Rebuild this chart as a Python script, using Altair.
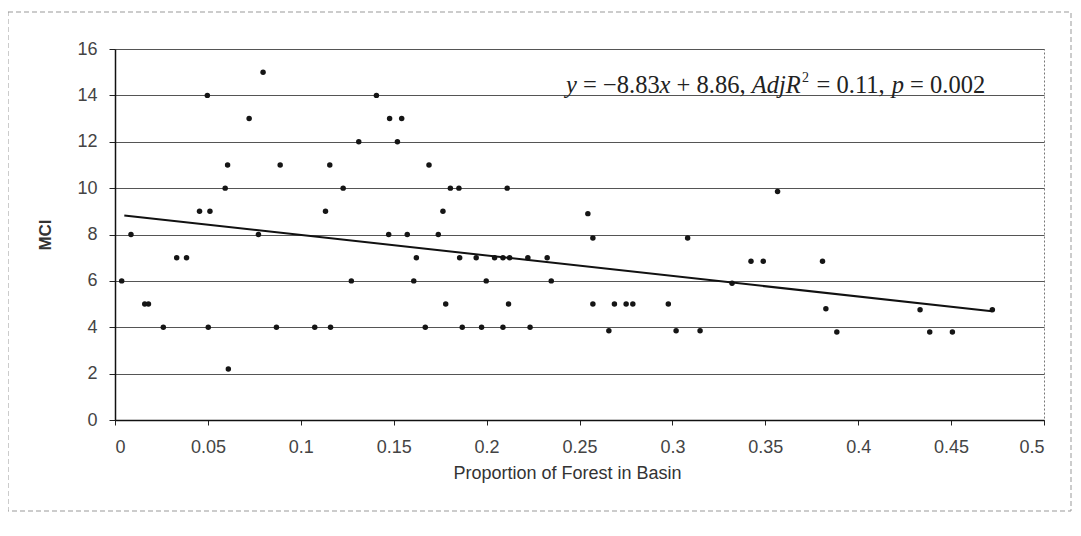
import altair as alt
import pandas as pd

# Proportion of forest in basin (x) and MCI (y)
forest = [0.0036, 0.0086, 0.016, 0.018, 0.026, 0.0332, 0.0385, 0.0455, 0.0497, 0.0502,
          0.0511, 0.0593, 0.0606, 0.061, 0.0722, 0.0772, 0.0797, 0.0869, 0.0889, 0.1075,
          0.1133, 0.1156, 0.1160, 0.1228, 0.1272, 0.1312, 0.1407, 0.1473, 0.1478, 0.152,
          0.1543, 0.1573, 0.1608, 0.1622, 0.167, 0.169, 0.174, 0.1765, 0.178, 0.1805,
          0.1851, 0.1855, 0.1869, 0.1944, 0.1973, 0.1998, 0.2043, 0.2088, 0.2088, 0.2111,
          0.2118, 0.2124, 0.2222, 0.2234, 0.2326, 0.2348, 0.2545, 0.2572, 0.2572, 0.2658,
          0.2688, 0.2751, 0.2787, 0.2978, 0.302, 0.3082, 0.3149, 0.3321, 0.3423, 0.3489,
          0.3566, 0.3808, 0.3826, 0.3885, 0.4333, 0.4385, 0.4507, 0.4722]
mci = [6, 8, 5, 5, 4, 7, 7, 9, 14, 4,
       9, 10, 11, 2.2, 13, 8, 15, 4, 11, 4,
       9, 11, 4, 10, 6, 12, 14, 8, 13, 12,
       13, 8, 6, 7, 4, 11, 8, 9, 5, 10,
       10, 7, 4, 7, 4, 6, 7, 7, 4, 10,
       5, 7, 7, 4, 7, 6, 8.9, 7.85, 5, 3.85,
       5, 5, 5, 5, 3.85, 7.85, 3.85, 5.9, 6.85, 6.85,
       9.85, 6.85, 4.8, 3.8, 4.75, 3.8, 3.8, 4.75]

# Fitted regression line end points
fit_x = [0.005, 0.472]
fit_y = [8.82, 4.69]

x_ticks = [0, 0.05, 0.1, 0.15, 0.2, 0.25, 0.3, 0.35, 0.4, 0.45, 0.5]
y_ticks = [0, 2, 4, 6, 8, 10, 12, 14, 16]

# Equation annotation pieces: text, italic?, offset
eq_text = ["y", "= \u22128.83", "x", "+ 8.86,", "AdjR", "2", "= 0.11,", "p", "= 0.002"]
eq_italic = [True, False, True, False, True, False, False, True, False]
eq_offset = [0, 17.0, 93.6, 110.6, 185.7, 235.9, 250.6, 325.7, 344.1]

W, H = 929, 371

pts = pd.DataFrame({"forest": forest, "mci": mci})
fit = pd.DataFrame({"forest": fit_x, "mci": fit_y})

xscale = alt.Scale(domain=[0, 0.5], nice=False, zero=False)
yscale = alt.Scale(domain=[0, 16], nice=False)

xaxis = alt.Axis(values=x_ticks, format="~g", title="Proportion of Forest in Basin",
                 grid=False, tickSize=5, labelPadding=13, labelFontSize=18,
                 titleFontSize=18, titleFontWeight="normal", titleX=452, titleY=53,
                 titleBaseline="middle", titleAnchor="start", titleAlign="center")
yaxis = alt.Axis(values=y_ticks, format="d", title="MCI", grid=True,
                 tickSize=6, labelPadding=12, labelFontSize=18,
                 titleFontSize=17, titleFontWeight="bold", titleAngle=-90,
                 titleX=-70, titleY=H / 2, titleAlign="center", titleBaseline="middle")

points = alt.Chart(pts).mark_circle(size=30, color="#151515", opacity=1).encode(
    x=alt.X("forest:Q", scale=xscale, axis=xaxis),
    y=alt.Y("mci:Q", scale=yscale, axis=yaxis),
)

line = alt.Chart(fit).mark_line(color="#111", strokeWidth=2).encode(
    x="forest:Q", y="mci:Q"
)

border = alt.Chart(pd.DataFrame({"a": [0]})).mark_rect(
    fill="white", fillOpacity=0, stroke="#999", strokeWidth=1, strokeDash=[5, 3]
).encode(x=alt.value(-107), x2=alt.value(956), y=alt.value(-37), y2=alt.value(462))

layers = [border, points, line]
x0 = 451
for t, it, off in zip(eq_text, eq_italic, eq_offset):
    sup = (t == "2")
    layers.append(
        alt.Chart(pd.DataFrame({"t": [t]})).mark_text(
            font="Liberation Serif", fontSize=14 if sup else 24.5,
            fontStyle="italic" if it else "normal", color="#222",
            align="left", baseline="alphabetic"
        ).encode(text="t:N", x=alt.value(x0 + off), y=alt.value(33 if sup else 44))
    )

chart = alt.layer(*layers).properties(
    width=W, height=H,
    autosize=alt.AutoSizeParams(type="none"),
    padding={"left": 107, "top": 41, "right": 28, "bottom": 110},
).configure_view(
    stroke="#777", strokeDash=[2, 2], strokeWidth=1
).configure_axis(
    labelFont="Liberation Sans", titleFont="Liberation Sans",
    labelColor="#444", titleColor="#333",
    domainColor="#111", domainWidth=1.5, tickColor="#222",
    gridColor="#555", gridWidth=1
)

chart.save("out.html", embed_options={"renderer": "svg", "actions": False})
